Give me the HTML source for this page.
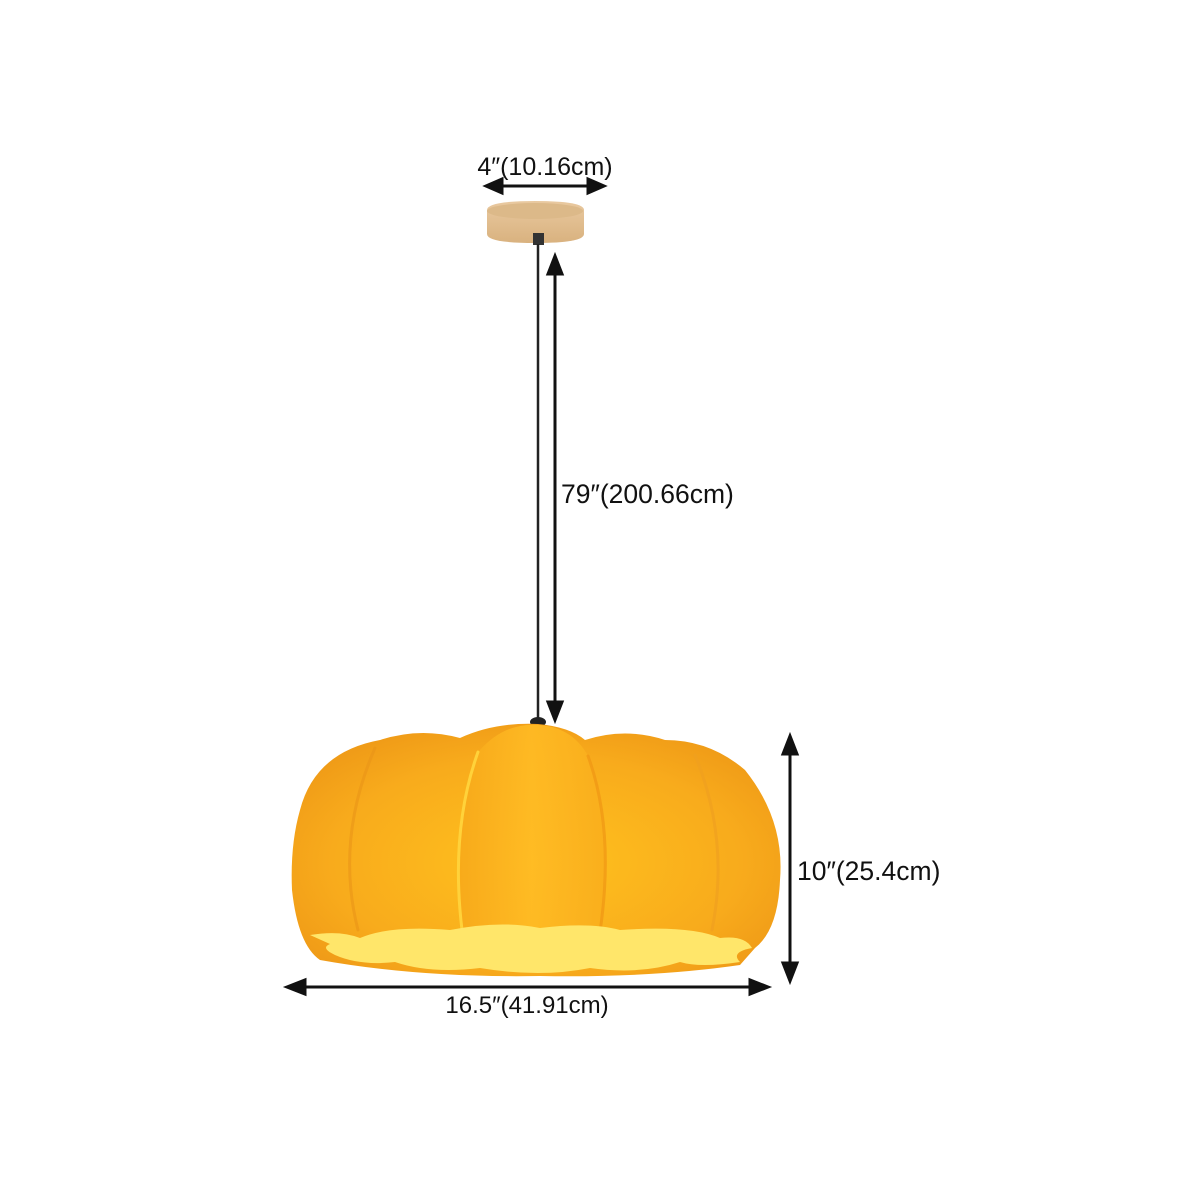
<!DOCTYPE html>
<html><head><meta charset="utf-8"><style>
html,body{margin:0;padding:0;background:#fff;}
svg{display:block}
text{font-family:"Liberation Sans",sans-serif;fill:#111;}
</style></head><body>
<svg width="1200" height="1200" viewBox="0 0 1200 1200" xmlns="http://www.w3.org/2000/svg">
<defs>
<linearGradient id="wood" x1="0" y1="0" x2="0" y2="1"><stop offset="0" stop-color="#e9c9a0"/><stop offset="1" stop-color="#d9b27f"/></linearGradient>
<radialGradient id="shade" cx="0.5" cy="0.55" r="0.6"><stop offset="0" stop-color="#ffc21e"/><stop offset="0.7" stop-color="#f8ab1c"/><stop offset="1" stop-color="#ef9a17"/></radialGradient>
<linearGradient id="lobe" x1="0" y1="0" x2="1" y2="0"><stop offset="0" stop-color="#f7a91a"/><stop offset="0.5" stop-color="#ffbb24"/><stop offset="1" stop-color="#f9ae1c"/></linearGradient>
</defs>
<path d="M487 210 Q487 201 535 201 Q584 201 584 210 L584 234 Q584 243 535 243 Q487 243 487 234 Z" fill="url(#wood)"/>
<ellipse cx="535" cy="211" rx="48" ry="8" fill="#dcb989"/>
<rect x="533" y="233" width="11" height="12" fill="#333"/>
<line x1="538" y1="244" x2="538" y2="720" stroke="#222" stroke-width="2.5"/>
<ellipse cx="538" cy="722" rx="8" ry="5" fill="#222"/>
<path d="M300 810 Q315 752 380 740 Q420 727 460 738 Q495 722 538 724 Q570 727 585 740 Q625 727 665 740 Q710 740 745 770 Q785 820 780 880 Q778 930 755 948 L740 965 Q650 978 540 976 Q420 978 320 960 Q298 945 292 890 Q290 845 300 810 Z" fill="url(#shade)"/>
<path d="M462 930 Q452 800 480 750 Q505 722 540 725 Q575 728 590 760 Q612 830 600 932 Z" fill="url(#lobe)" opacity="0.9"/>
<g fill="none" stroke-width="3" stroke-linecap="round">
<path d="M462 930 Q450 830 478 752" stroke="#ffd23a"/>
<path d="M600 932 Q615 830 588 756" stroke="#f09614" opacity="0.7"/>
<path d="M358 930 Q335 840 375 748" stroke="#ea9418" opacity="0.6"/>
<path d="M712 930 Q730 840 695 755" stroke="#f0a020" opacity="0.7"/>
</g>
<path d="M310 935 Q340 930 360 938 Q390 925 450 930 Q500 920 540 928 Q590 922 620 930 Q690 925 720 938 Q745 935 752 948 Q730 952 740 962 Q700 968 680 962 Q640 975 590 968 Q540 978 480 968 Q430 974 395 962 Q360 966 335 955 Q320 948 330 944 Z" fill="#ffe66a"/>
<g stroke="#111" stroke-width="3" fill="#111">
<line x1="495" y1="186" x2="595" y2="186"/>
<path d="M486 186 L502 179 L502 193 Z"/><path d="M604 186 L588 179 L588 193 Z"/>
<line x1="555" y1="268" x2="555" y2="708"/>
<path d="M555 256 L548 274 L562 274 Z"/><path d="M555 720 L548 702 L562 702 Z"/>
<line x1="790" y1="748" x2="790" y2="970"/>
<path d="M790 736 L783 754 L797 754 Z"/><path d="M790 981 L783 963 L797 963 Z"/>
<line x1="298" y1="987" x2="758" y2="987"/>
<path d="M287 987 L305 980 L305 994 Z"/><path d="M768 987 L750 980 L750 994 Z"/>
</g>
<g stroke="none">
<text x="545" y="175" text-anchor="middle" font-size="25">4″(10.16cm)</text>
<text x="561" y="503" font-size="26.5">79″(200.66cm)</text>
<text x="797" y="880" font-size="26.5">10″(25.4cm)</text>
<text x="527" y="1013" text-anchor="middle" font-size="24">16.5″(41.91cm)</text>
</g>
</svg>
</body></html>
